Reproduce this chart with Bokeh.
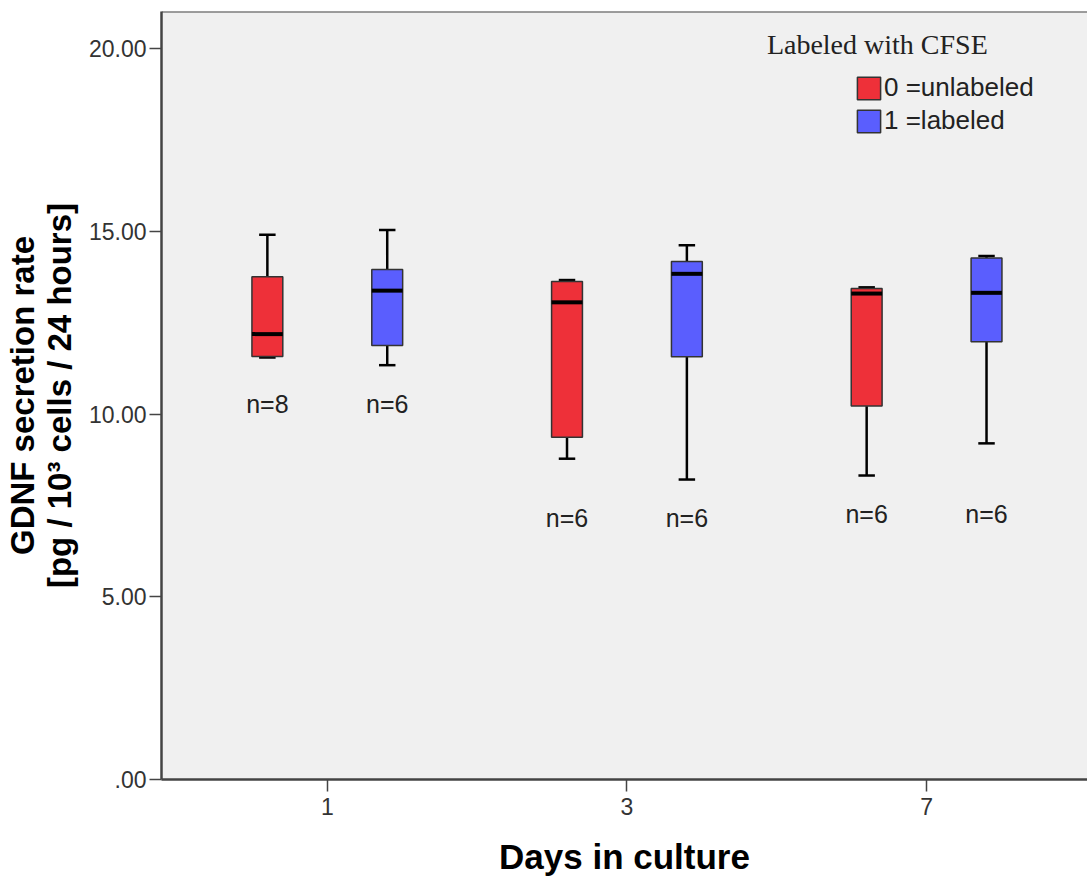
from bokeh.plotting import figure
from bokeh.models import Range1d, FixedTicker, Span, Legend, LegendItem, Label
from bokeh.embed import file_html
from bokeh.resources import INLINE
from bokeh.core.properties import value

# ---------------- data ----------------
days = ["1", "3", "7"]
group_labels = ["0 =unlabeled", "1 =labeled"]
group_colors = ["#EE3039", "#5A5EFE"]

# unlabeled (group 0)
unl_low = [11.55, 8.78, 8.32]
unl_q1 = [11.58, 9.37, 10.22]
unl_med = [12.19, 13.06, 13.30]
unl_q3 = [13.76, 13.63, 13.44]
unl_high = [14.91, 13.67, 13.47]
unl_n = [8, 6, 6]

# labeled (group 1)
lab_low = [11.34, 8.21, 9.20]
lab_q1 = [11.88, 11.57, 11.98]
lab_med = [13.38, 13.84, 13.32]
lab_q3 = [13.96, 14.18, 14.27]
lab_high = [15.04, 14.62, 14.33]
lab_n = [6, 6, 6]

ytick_values = [0, 5, 10, 15, 20]
ytick_labels = [".00", "5.00", "10.00", "15.00", "20.00"]

# ---------------- styling ----------------
SANS = "Liberation Sans"
SERIF = "Liberation Serif"
AXIS_COL = "#444444"
BOX_W = 0.103
CAP_W = 0.055
OFFSETS = [-0.2, 0.2]

p = figure(width=1087, height=879, output_backend="svg", toolbar_location=None,
           x_range=Range1d(-0.5533, 2.537), y_range=Range1d(0, 21.02),
           min_border_left=160, min_border_right=0, min_border_top=11, min_border_bottom=100)
p.background_fill_color = "#F0F0F0"
p.border_fill_color = "white"
p.outline_line_color = None
p.grid.visible = False

groups = [
    (unl_low, unl_q1, unl_med, unl_q3, unl_high, unl_n),
    (lab_low, lab_q1, lab_med, lab_q3, lab_high, lab_n),
]

box_renderers = []
for gi, (lo, q1, med, q3, hi, ns) in enumerate(groups):
    xs = [i + OFFSETS[gi] for i in range(len(days))]
    # whiskers
    p.segment(x0=xs, y0=lo, x1=xs, y1=q1, line_color="black", line_width=2.5)
    p.segment(x0=xs, y0=q3, x1=xs, y1=hi, line_color="black", line_width=2.5)
    # caps
    p.segment(x0=[x - CAP_W / 2 for x in xs], y0=lo, x1=[x + CAP_W / 2 for x in xs], y1=lo,
              line_color="black", line_width=2.5)
    p.segment(x0=[x - CAP_W / 2 for x in xs], y0=hi, x1=[x + CAP_W / 2 for x in xs], y1=hi,
              line_color="black", line_width=2.5)
    # boxes
    r = p.vbar(x=xs, width=BOX_W, bottom=q1, top=q3, fill_color=group_colors[gi],
               line_color="#333333", line_width=1.5)
    box_renderers.append(r)
    # medians
    p.segment(x0=[x - BOX_W / 2 for x in xs], y0=med, x1=[x + BOX_W / 2 for x in xs], y1=med,
              line_color="black", line_width=4)

# n labels below each cluster
for gi, (lo, q1, med, q3, hi, ns) in enumerate(groups):
    xs = [i + OFFSETS[gi] for i in range(len(days))]
    ys = [min(unl_low[i], lab_low[i]) - 1.05 for i in range(len(days))]
    p.text(x=xs, y=ys, text=[f"n={n}" for n in ns], text_align="center", text_baseline="middle",
           text_font=value(SANS), text_font_size="25px", text_color="#222222")

# top border
p.add_layout(Span(location=21.02, dimension="width", line_color=AXIS_COL, line_width=2))

# axes
p.xaxis.ticker = FixedTicker(ticks=list(range(len(days))))
p.xaxis.major_label_overrides = {i: d for i, d in enumerate(days)}
p.yaxis.ticker = FixedTicker(ticks=ytick_values)
p.yaxis.major_label_overrides = {v: l for v, l in zip(ytick_values, ytick_labels)}

for ax in (p.xaxis, p.yaxis):
    ax.axis_line_color = AXIS_COL
    ax.axis_line_width = 2.5
    ax.major_tick_line_color = AXIS_COL
    ax.major_tick_line_width = 1.5
    ax.major_tick_in = 0
    ax.major_tick_out = 12
    ax.minor_tick_line_color = None
    ax.major_label_text_font = SANS
    ax.major_label_text_font_size = "23px"
    ax.major_label_text_color = "#333333"
    ax.axis_label_text_font = SANS
    ax.axis_label_text_font_style = "bold"
    ax.axis_label_text_color = "black"

p.xaxis.major_label_standoff = 6
p.xaxis.axis_label = "Days in culture"
p.xaxis.axis_label_text_font_size = "35px"
p.xaxis.axis_label_standoff = 19

p.yaxis.major_label_standoff = 3
p.yaxis.axis_label = "GDNF secretion rate\n[pg / 10³ cells / 24 hours]"
p.yaxis.axis_label_text_font_size = "33px"
p.yaxis.axis_label_text_line_height = 1.0
p.yaxis.axis_label_standoff = 8

# legend
legend = Legend(items=[LegendItem(label=group_labels[i], renderers=[box_renderers[i]]) for i in range(2)],
                location=(693, 643), orientation="vertical")
legend.background_fill_alpha = 0
legend.border_line_color = None
legend.padding = 0
legend.margin = 0
legend.spacing = 2
legend.glyph_width = 29
legend.glyph_height = 28
legend.label_standoff = 1
legend.label_text_font = SANS
legend.label_text_font_size = "26px"
legend.label_text_color = "#222222"
p.add_layout(legend, "center")

p.add_layout(Label(x=1.467, y=20.12, text="Labeled with CFSE", text_font=SERIF,
                   text_font_size="28px", text_color="#222222", text_baseline="alphabetic"))

open("out.html", "w").write(file_html(p, INLINE))
